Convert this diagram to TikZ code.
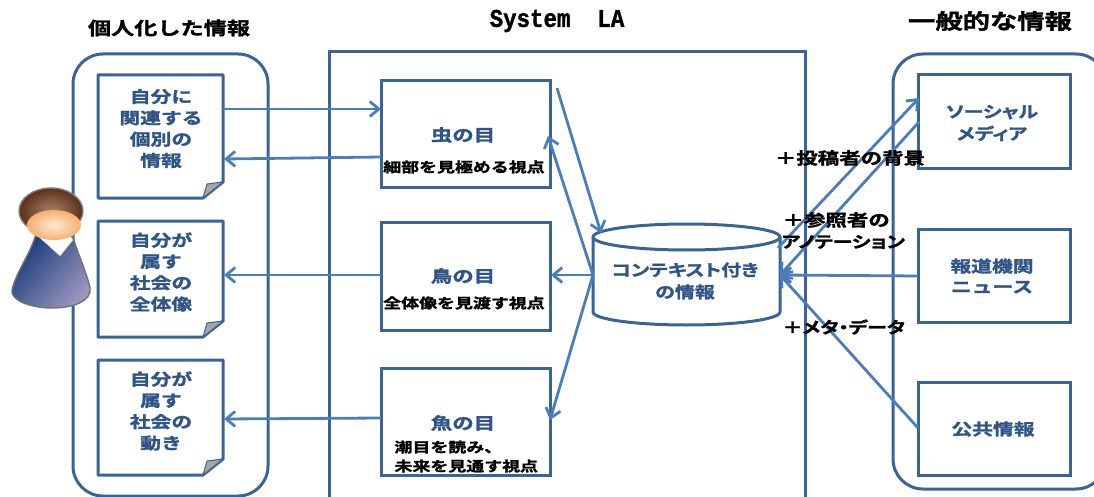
\documentclass[tikz,border=0pt]{standalone}
\usepackage{fontspec}
\usetikzlibrary{arrows.meta}
\newfontfamily\jp[FakeStretch=1.25,FakeBold=1.6,RawFeature=+palt]{Noto Sans CJK JP Bold}
\newfontfamily\jpw[FakeStretch=1.3,FakeBold=1.6]{Noto Sans CJK JP Bold}
\newfontfamily\mono[FakeStretch=0.88,FakeBold=1.2]{Liberation Mono Bold}
\definecolor{frame}{HTML}{3A6496}
\definecolor{flow}{HTML}{4A7EBB}
\definecolor{ink}{HTML}{2F5488}
\definecolor{navy}{HTML}{163A78}
\definecolor{lav}{HTML}{9A96BE}
\definecolor{hairD}{HTML}{5A3018}
\definecolor{hairL}{HTML}{A9826A}
\definecolor{skinL}{HTML}{FDE9D4}
\definecolor{skinD}{HTML}{F5B070}
\tikzset{
 panel/.style={draw=frame,line width=3pt,rounded corners=30pt,fill=none},
 boxed/.style={draw=frame,line width=3pt,inner sep=0pt,outer sep=0pt,fill=white},
 flowline/.style={draw=flow,line width=2.8pt,-{Straight Barb[length=9pt,width=15pt,line width=2.8pt]}},
 blue16/.style={text=ink,font=\jpw\fontsize{16}{21.3}\selectfont,align=center},
 blue18/.style={text=ink,font=\jpw\fontsize{16.5}{21}\selectfont,align=center},
 black14/.style={text=black,font=\jpw\fontsize{13.8}{19}\selectfont,align=left},
 black16/.style={text=black,font=\jpw\fontsize{16.5}{22}\selectfont,align=left},
 title/.style={text=black,font=\jpw\fontsize{17.8}{20}\selectfont}
}
\begin{document}
\begin{tikzpicture}[x=1pt,y=-1pt]
\useasboundingbox (0,0) rectangle (1094,497);
% panels
\draw[panel] (73,496) rectangle (268,54);
\draw[panel] (893,54) rectangle (1106,489);
\draw[draw=frame,line width=3pt] (329,497) -- (329,52) -- (805,52) -- (805,497);
% documents
\foreach \n/\t/\b in {doc1/75/198,doc2/221/337,doc3/360/475}{
  \draw[draw=frame,line width=3pt,fill=white,line join=round] (98,\t) -- (223,\t) -- (223,\b-16) -- (203,\b) -- (98,\b) -- cycle;
  \draw[draw=frame,line width=1pt,fill=black!35] (223,\b-16) -- (203,\b) -- (207,\b-14) -- cycle;
  \path (98,\t) coordinate (\n nw) (223,\b) coordinate (\n se);
}
\node[blue16] (doc1) at (161,128.5) {自分に\\関連する\\個別の\\情報};
\node[blue16] (doc2) at (161,272) {自分が\\属す\\社会の\\全体像};
\node[blue16] (doc3) at (161,411) {自分が\\属す\\社会の\\動き};
% eyes
\node[boxed,minimum width=169pt,minimum height=107pt] (eye1) at (465.5,134.5) {};
\node[boxed,minimum width=169pt,minimum height=108pt] (eye2) at (465.5,276) {};
\node[boxed,minimum width=169pt,minimum height=107pt] (eye3) at (465.5,421.5) {};
\node[blue18] (e1t) at (463,135) {虫の目};
\node[black14] (e1s) at (464,167) {細部を見極める視点};
\node[blue18] (e2t) at (463,276) {鳥の目};
\node[black14] (e2s) at (464,303) {全体像を見渡す視点};
\node[blue18] (e3t) at (463,423) {魚の目};
\node[black14,anchor=north west] (e3s) at (391,437) {潮目を読み、\\未来を見通す視点};
% cylinder
\draw[draw=frame,line width=3pt,fill=white] (593,237) arc[start angle=180,end angle=360,x radius=93.5,y radius=13] -- (780,312) arc[start angle=0,end angle=180,x radius=93.5,y radius=13] -- cycle;
\draw[draw=frame,line width=3pt] (593,237) arc[start angle=180,end angle=0,x radius=93.5,y radius=13];
\node[blue16,font=\jp\fontsize{16}{22}\selectfont] (cyl) at (685,281) {コンテキスト付き\\の情報};
% sources
\node[boxed,minimum width=152pt,minimum height=94pt] (src1) at (994,122) {};
\node[boxed,minimum width=152pt,minimum height=93pt] (src2) at (994,275.5) {};
\node[boxed,minimum width=152pt,minimum height=93pt] (src3) at (994,428.5) {};
\node[blue16,font=\jp\fontsize{16}{22}\selectfont] (s1t) at (992,123) {ソーシャル\\メディア};
\node[blue16,font=\jpw\fontsize{16}{20.5}\selectfont] (s2t) at (992,276) {報道機関\\ニュース};
\node[blue16] (s3t) at (993,429) {公共情報};
% person
\shade[draw=black!55,line width=1.4pt,left color=navy,right color=lav,shading angle=50]
  (36,234) .. controls (30,255) and (17,270) .. (12,290) .. controls (10,300) and (30,308) .. (52,308) .. controls (75,308) and (92,300) .. (90,288) .. controls (86,270) and (78,255) .. (72,234) -- cycle;
\fill[white,draw=black!25] (38,236) -- (60,256) -- (73,240) -- (66,230) -- (42,230) -- cycle;
\shade[draw=black!50,line width=1.4pt,inner color=hairL,outer color=hairD] (51,211) ellipse[x radius=32,y radius=23];
\shade[inner color=skinL,outer color=skinD] (54,225) ellipse[x radius=27,y radius=15];
% connectors
\coordinate (a1) at (223,109); \coordinate (b1) at (381,109);
\draw[flowline] (a1) -- (b1);
\coordinate (a2) at (381,157); \coordinate (b2) at (224,159);
\draw[flowline] (a2) -- (b2);
\coordinate (a3) at (381,275); \coordinate (b3) at (224,275);
\draw[flowline] (a3) -- (b3);
\coordinate (a4) at (381,418); \coordinate (b4) at (224,419);
\draw[flowline] (a4) -- (b4);
\coordinate (cw) at (593,275); \coordinate (ce) at (780,275);
\coordinate (f1) at (551,275); \coordinate (f2) at (548,136); \coordinate (f3) at (550,420);
\coordinate (g1) at (557,88); \coordinate (g2) at (601,233);
\draw[flowline] (cw) -- (f1);
\draw[flowline] (cw) -- (f2);
\draw[flowline] (cw) -- (f3);
\draw[flowline] (g1) -- (g2);
\coordinate (h1) at (778,248); \coordinate (h2) at (919,98);
\coordinate (h3) at (919,122); \coordinate (h4) at (918,276); \coordinate (h5) at (918,428);
\draw[flowline] (h1) -- (h2);
\draw[flowline] (h3) -- (ce);
\draw[flowline] (h4) -- (ce);
\draw[flowline] (h5) -- (ce);
% labels
\node[black16] (l1) at (850,158) {＋投稿者の背景};
\node[black16,anchor=west] (l2) at (779,220) {＋参照者の};
\node[black16,font=\jp\fontsize{16}{22}\selectfont,anchor=west] (l3) at (778,242) {アノテーション};
\node[black16,font=\jp\fontsize{16}{22}\selectfont,anchor=west] (l4) at (779,327) {＋メタ・データ};
% titles
\node[title] (t1) at (169,28) {個人化した情報};
\node[text=black,font=\mono\fontsize{25.5}{28}\selectfont] (t2) at (557,21) {System\ \ LA};
\node[title,font=\jpw\fontsize{21}{24}\selectfont] (t3) at (990,21) {一般的な情報};
\end{tikzpicture}
\end{document}
